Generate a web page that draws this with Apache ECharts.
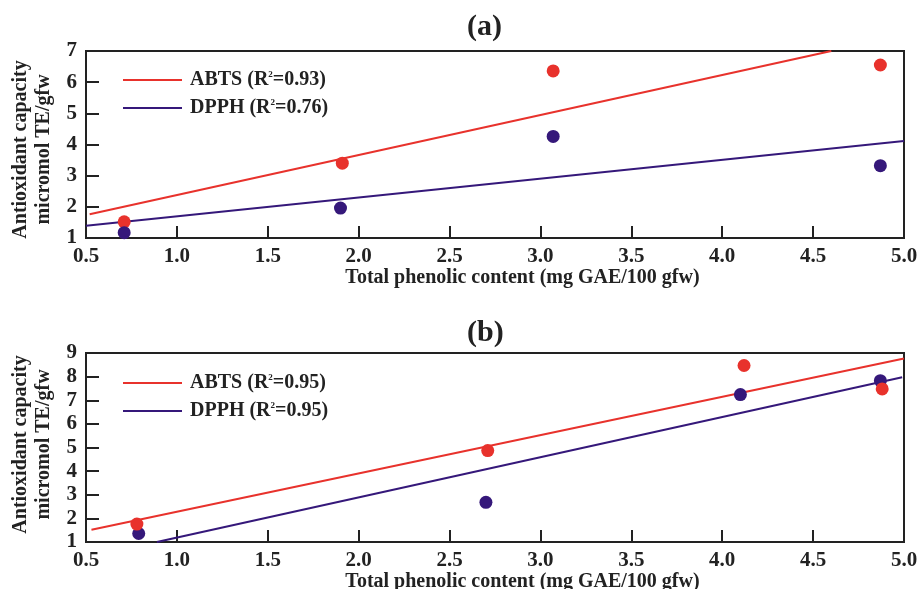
<!DOCTYPE html>
<html>
<head>
<meta charset="utf-8">
<script src="https://cdn.jsdelivr.net/npm/echarts@6/dist/echarts.min.js"></script>
<style>
  html, body { margin: 0; padding: 0; background: #fff; }
  #main { width: 919px; height: 589px; }
</style>
</head>
<body>
<div id="main"></div>
<script>
// measured points, panel (a)
const abtsA = [[0.71, 1.52], [1.91, 3.40], [3.07, 6.36], [4.87, 6.55]]
const dpphA = [[0.71, 1.17], [1.90, 1.96], [3.07, 4.26], [4.87, 3.32]]
// fitted lines, panel (a)
const abtsFitA = [[0.52, 1.76], [4.60, 7.0]]
const dpphFitA = [[0.5, 1.39], [5.0, 4.11]]

// measured points, panel (b)
const abtsB = [[0.78, 1.76], [2.71, 4.87], [4.12, 8.47], [4.88, 7.48]]
const dpphB = [[0.79, 1.36], [2.70, 2.68], [4.10, 7.24], [4.87, 7.83]]
// fitted lines, panel (b)
const abtsFitB = [[0.53, 1.52], [5.0, 8.77]]
const dpphFitB = [[0.89, 1.0], [4.99, 7.97]]

const legendA = { 'ABTS a': ['ABTS (R', '=0.93)'], 'DPPH a': ['DPPH (R', '=0.76)'] }
const legendB = { 'ABTS b': ['ABTS (R', '=0.95)'], 'DPPH b': ['DPPH (R', '=0.95)'] }

const RED = '#e8322c'
const BLUE = '#35187a'
const FONT = "'Liberation Serif', 'Times New Roman', serif"

const chart = echarts.init(document.getElementById('main'))

function xAxisOf (gridIndex) {
  return {
    type: 'value',
    gridIndex: gridIndex,
    min: 0.5,
    max: 5.0,
    interval: 0.5,
    name: 'Total phenolic content (mg GAE/100 gfw)',
    nameLocation: 'middle',
    nameGap: 29,
    nameTextStyle: { fontFamily: FONT, fontWeight: 'bold', fontSize: 20, color: '#222', padding: [0, 0, 0, 55] },
    axisLine: { lineStyle: { color: '#222', width: 2 } },
    axisTick: { inside: true, length: 12, lineStyle: { color: '#222', width: 2 } },
    axisLabel: {
      fontFamily: FONT, fontWeight: 'bold', fontSize: 21, color: '#222', margin: 8,
      formatter: v => v.toFixed(1)
    },
    splitLine: { show: false }
  }
}

function yAxisOf (gridIndex, max, pad) {
  return {
    type: 'value',
    gridIndex: gridIndex,
    min: 1,
    max: max,
    interval: 1,
    name: 'Antioxidant capacity\nmicromol TE/gfw',
    nameLocation: 'middle',
    nameGap: 31,
    nameTextStyle: { fontFamily: FONT, fontWeight: 'bold', fontSize: 20, color: '#222', lineHeight: 23, padding: pad },
    axisLine: { show: true, lineStyle: { color: '#222', width: 2 } },
    axisTick: { show: true, inside: true, length: 13, lineStyle: { color: '#222', width: 2 } },
    axisLabel: { fontFamily: FONT, fontWeight: 'bold', fontSize: 21, color: '#222', margin: 9 },
    splitLine: { show: false }
  }
}

function legendOf (map, top) {
  return {
    data: Object.keys(map),
    orient: 'vertical',
    left: 123,
    top: top,
    padding: 0,
    icon: 'rect',
    itemWidth: 59,
    itemHeight: 2,
    itemGap: 8,
    formatter: name => '{n|' + map[name][0] + '}{s|2}{n|' + map[name][1] + '}',
    textStyle: {
      padding: [0, 0, 0, 3],
      rich: {
        n: { fontFamily: FONT, fontWeight: 'bold', fontSize: 20, color: '#222', lineHeight: 20 },
        s: { fontFamily: FONT, fontWeight: 'bold', fontSize: 9, color: '#222', lineHeight: 10, verticalAlign: 'top' }
      }
    }
  }
}

function fitLine (name, data, color, idx) {
  return {
    name: name,
    type: 'line',
    xAxisIndex: idx,
    yAxisIndex: idx,
    data: data,
    symbol: 'none',
    silent: true,
    lineStyle: { color: color, width: 2 },
    itemStyle: { color: color },
    z: 2
  }
}

function dots (data, color, idx, z) {
  return {
    type: 'scatter',
    xAxisIndex: idx,
    yAxisIndex: idx,
    data: data,
    symbolSize: 13,
    itemStyle: { color: color, opacity: 1 },
    z: z
  }
}

const gridBase = { left: 86, right: 15, show: true, borderColor: '#222', borderWidth: 2, backgroundColor: '#fff', outerBoundsMode: 'none', containLabel: false }

const option = {
  animation: false,
  backgroundColor: '#fff',
  title: [
    { text: '(a)', left: 462, top: 7, textStyle: { fontFamily: FONT, fontWeight: 'bold', fontSize: 30, color: '#222' } },
    { text: '(b)', left: 462, top: 313, textStyle: { fontFamily: FONT, fontWeight: 'bold', fontSize: 30, color: '#222' } }
  ],
  grid: [
    Object.assign({ top: 51, height: 187 }, gridBase),
    Object.assign({ top: 353, height: 189 }, gridBase)
  ],
  legend: [legendOf(legendA, 70), legendOf(legendB, 373)],
  xAxis: [xAxisOf(0), xAxisOf(1)],
  yAxis: [yAxisOf(0, 7, [0, 10, 0, 0]), yAxisOf(1, 9, [0, 0, 0, 6])],
  series: [
    fitLine('ABTS a', abtsFitA, RED, 0),
    fitLine('DPPH a', dpphFitA, BLUE, 0),
    dots(abtsA, RED, 0, 3),
    dots(dpphA, BLUE, 0, 4),
    fitLine('ABTS b', abtsFitB, RED, 1),
    fitLine('DPPH b', dpphFitB, BLUE, 1),
    dots(dpphB, BLUE, 1, 3),
    dots(abtsB, RED, 1, 4)
  ]
}

chart.setOption(option)
</script>
</body>
</html>
